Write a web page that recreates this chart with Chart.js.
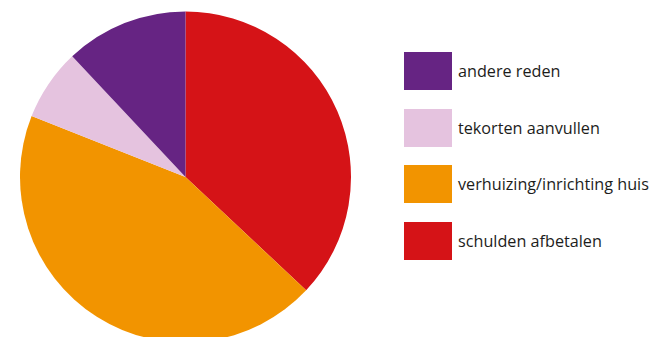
<!DOCTYPE html>
<html><head><meta charset="utf-8">
<script src="https://cdn.jsdelivr.net/npm/chart.js@4/dist/chart.umd.min.js"></script>
<style>
html,body{margin:0;padding:0;background:#fff;overflow:hidden;width:650px;height:337px;}
#wrap{position:absolute;left:0;top:0;width:371px;height:354px;}
#legend{position:absolute;left:404px;top:52px;font-family:"Open Sans",sans-serif;font-size:16.2px;color:#1d1d1b;}
.item{display:flex;align-items:center;height:38px;margin-bottom:18.7px;white-space:nowrap;}
.box{width:48px;height:38px;margin-right:6px;flex:none;}
</style></head><body>
<div id="wrap"><canvas id="c"></canvas></div>
<div id="legend"></div>
<script>
const categories = ["schulden afbetalen", "verhuizing/inrichting huis", "tekorten aanvullen", "andere reden"];
const values = [37, 44, 7, 12];
const colors = ["#D51317", "#F29400", "#E5C3DF", "#662483"];

const chart = new Chart(document.getElementById('c'), {
  type: 'pie',
  data: { labels: categories, datasets: [{ data: values, backgroundColor: colors, borderWidth: 0 }] },
  options: {
    responsive: true, maintainAspectRatio: false, animation: false,
    layout: { padding: { left: 20, right: 20, top: 11.5, bottom: 11.5 } },
    plugins: { legend: { display: false }, tooltip: { enabled: false } }
  }
});

const leg = document.getElementById('legend');
for (let i = categories.length - 1; i >= 0; i--) {
  const it = document.createElement('div'); it.className = 'item';
  const b = document.createElement('div'); b.className = 'box'; b.style.background = colors[i];
  const t = document.createElement('span'); t.textContent = categories[i];
  it.appendChild(b); it.appendChild(t); leg.appendChild(it);
}
</script>
</body></html>
